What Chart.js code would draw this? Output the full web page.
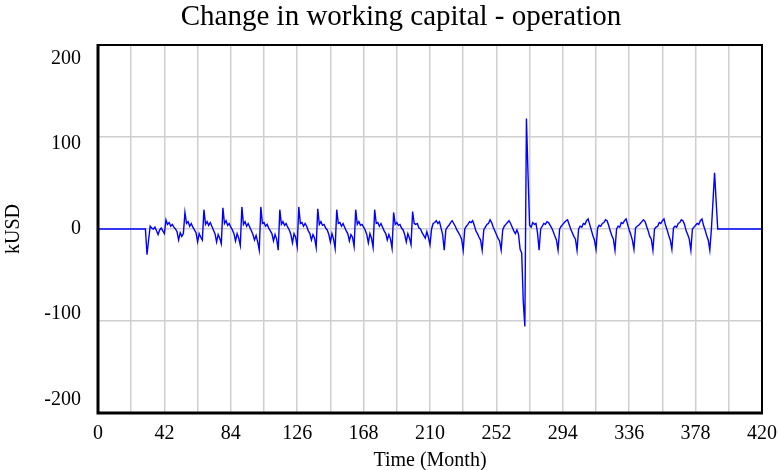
<!DOCTYPE html>
<html>
<head>
<meta charset="utf-8">
<title>Change in working capital - operation</title>
<script src="https://cdn.jsdelivr.net/npm/chart.js@4.4.0/dist/chart.umd.min.js"></script>
<style>
  html, body { margin: 0; padding: 0; background: #fff; }
  #wrap { width: 778px; height: 470px; }
</style>
</head>
<body>
<div id="wrap"><canvas id="wcChart" width="778" height="470"></canvas></div>
<script>
// texts
const chartTitle = "Change in working capital - operation";
const xTitle = "Time (Month)";
const yTitle = "kUSD";

// axes
const xLabels = [0, 42, 84, 126, 168, 210, 252, 294, 336, 378, 420];
const yLabels = [-200, -100, 0, 100, 200];

// change in working capital (kUSD), one value per month 0..420
const kusd = [
  // 0-29
  0,0,0,0,0,0,0,0,0,0, 0,0,0,0,0,0,0,0,0,0, 0,0,0,0,0,0,0,0,0,0,
  // 30-42
  0, -28, -12, 3, 1, 0, 2, -2, -6, -1, 1, -2, -5,
  // 43-54
  10, 5, 7, 3, 5, 2, 0, -3, -12, -4, -8, -5,
  // 55-66
  18, 6, 8, 3, 6, 2, -1, -4, -14, -5, -9, -12,
  // 67-78
  21, 5, 8, 4, 7, 3, -1, -5, -14, -6, -10, -16,
  // 79-90
  23, 6, 9, 4, 6, 2, -1, -5, -13, -5, -10, -18,
  // 91-102
  24, 5, 8, 3, 6, 2, -2, -6, -12, -7, -14, -23,
  // 103-114
  24, 6, 7, 3, 5, 1, -2, -5, -13, -6, -11, -23,
  // 115-126
  21, 5, 8, 4, 6, 2, -1, -6, -15, -5, -9, -19,
  // 127-138
  24, 6, 7, 3, 6, 3, -2, -5, -12, -6, -10, -20,
  // 139-150
  22, 5, 8, 4, 5, 1, -1, -6, -14, -5, -11, -21,
  // 151-162
  21, 6, 7, 3, 6, 2, -2, -5, -13, -6, -9, -19,
  // 163-174
  21, 5, 8, 4, 5, 2, -1, -6, -15, -5, -10, -20,
  // 175-186
  21, 6, 7, 3, 6, 2, -2, -5, -12, -6, -11, -21,
  // 187-198
  18, 5, 7, 4, 5, 1, -1, -6, -14, -5, -10, -17,
  // 199-210
  19, 6, 5, 6, 1, 0, -4, -7, -10, -3, -9, -17,
  // 211-218
  0, 6, 7, 9, 6, 8, 1, -6,
  // 219-230
  -23, -1, 2, 4, 7, 9, 6, 3, -1, -4, -7, -11,
  // 231-242
  -23, 0, 3, 5, 8, 7, 9, 4, -2, -5, -9, -12,
  // 243-254
  -23, -1, 2, 5, 6, 10, 7, 2, -2, -6, -10, -13,
  // 255-266
  -23, -1, 3, 5, 7, 9, 6, 2, -2, -5, -1, -6,
  // 267-278
  -22, -26, -79, -106, 120, 59, 4, 2, 7, 5, 6, -4,
  // 279-290
  -23, 0, 3, 6, 5, 8, 7, 4, 1, -3, -8, -12,
  // 291-302
  -23, 0, 3, 5, 7, 9, 10, 5, 0, -4, -8, -11,
  // 303-314
  -23, 0, 3, 2, 6, 5, 9, 11, 5, -1, -7, -12,
  // 315-326
  -22, 1, 4, 3, 6, 7, 10, 9, 4, -2, -7, -11,
  // 327-338
  -23, 0, 3, 2, 7, 6, 9, 11, 5, -1, -6, -12,
  // 339-350
  -22, 1, 3, 4, 6, 8, 10, 8, 3, -2, -8, -11,
  // 351-362
  -23, 0, 2, 3, 7, 6, 9, 11, 4, -1, -7, -12,
  // 363-374
  -22, 1, 3, 2, 6, 7, 10, 9, 5, -2, -6, -11,
  // 375-386
  -23, 0, 2, 4, 6, 5, 9, 11, 4, -1, -7, -12,
  // 387-392
  -23, 0, 30, 61, 30, 0,
  // 393-420
  0,0,0,0,0,0,0,0,0,0, 0,0,0,0,0,0,0,0,0,0, 0,0,0,0,0,0,0,0
];

const SERIF = "'Liberation Serif', 'Times New Roman', serif";
const GRID = '#cfcfcf';

// title over the plot
const titlePlugin = {
  id: 'plotTitle',
  afterDraw(chart) {
    const ctx = chart.ctx;
    ctx.save();
    ctx.font = "29px " + SERIF;
    ctx.fillStyle = '#000';
    ctx.textAlign = 'center';
    ctx.textBaseline = 'alphabetic';
    ctx.fillText(chartTitle, 401, 25);
    ctx.restore();
  }
};

// y labels sit a little inside their grid lines, pulled toward zero
const yLabelPlugin = {
  id: 'yLabels',
  afterDraw(chart) {
    const { ctx, chartArea } = chart;
    const y = chart.scales.y;
    ctx.save();
    ctx.font = "20px " + SERIF;
    ctx.fillStyle = '#000';
    ctx.textAlign = 'right';
    ctx.textBaseline = 'middle';
    yLabels.forEach(v => {
      ctx.fillText(String(v), chartArea.left - 17, y.getPixelForValue(v) + v * 0.068);
    });
    ctx.restore();
  }
};

// black box round the plot area, heavier on left and bottom
const framePlugin = {
  id: 'plotFrame',
  afterDatasetsDraw(chart) {
    const { ctx, chartArea: a } = chart;
    ctx.save();
    ctx.strokeStyle = '#000';
    ctx.lineWidth = 2;
    ctx.beginPath();
    ctx.moveTo(a.left, a.top);
    ctx.lineTo(a.right, a.top);
    ctx.lineTo(a.right, a.bottom);
    ctx.stroke();
    ctx.lineWidth = 3;
    ctx.beginPath();
    ctx.moveTo(a.left, a.top - 1);
    ctx.lineTo(a.left, a.bottom);
    ctx.lineTo(a.right + 1, a.bottom);
    ctx.stroke();
    ctx.restore();
  }
};

const ctx = document.getElementById('wcChart').getContext('2d');
new Chart(ctx, {
  type: 'line',
  data: {
    datasets: [{
      label: 'Change in working capital - operation',
      data: kusd.map((v, i) => ({ x: i, y: v })),
      borderColor: '#0000ff',
      borderWidth: 1.4,
      pointRadius: 0,
      tension: 0,
      fill: false
    }]
  },
  options: {
    responsive: false,
    animation: false,
    layout: { padding: { top: 45, right: 16, left: 0, bottom: 0 } },
    plugins: {
      legend: { display: false },
      tooltip: { enabled: false },
      title: { display: false }
    },
    scales: {
      x: {
        type: 'linear',
        min: 0,
        max: 420,
        afterFit(scale) {
          scale.height = 57;
          scale.paddingLeft = 0;
          scale.paddingRight = 0;
        },
        grid: { color: GRID, lineWidth: 1.5, drawTicks: false },
        border: { display: false },
        ticks: {
          stepSize: 21,
          autoSkip: false,
          maxRotation: 0,
          padding: 9,
          color: '#000',
          font: { family: SERIF, size: 20 },
          callback: v => xLabels.includes(v) ? String(v) : ''
        },
        title: {
          display: true,
          text: xTitle,
          color: '#000',
          font: { family: SERIF, size: 20 },
          padding: { top: 0, bottom: -3 }
        }
      },
      y: {
        min: -200,
        max: 200,
        afterFit(scale) {
          scale.width = 98;
          scale.paddingTop = 0;
          scale.paddingBottom = 0;
        },
        grid: { color: GRID, lineWidth: 1.5, drawTicks: false },
        border: { display: false },
        ticks: { stepSize: 100, display: false },
        title: {
          display: true,
          text: yTitle,
          color: '#000',
          font: { family: SERIF, size: 20 },
          padding: { top: 2, bottom: 0 }
        }
      }
    }
  },
  plugins: [framePlugin, titlePlugin, yLabelPlugin]
});
</script>
</body>
</html>
